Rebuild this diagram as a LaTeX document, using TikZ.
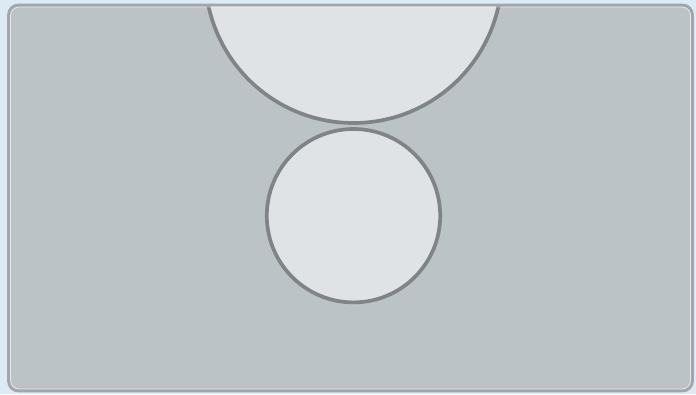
\documentclass[tikz,border=0pt]{standalone}
\definecolor{pagebg}{HTML}{DCEAF6}
\definecolor{panelfill}{HTML}{BBC3C6}
\definecolor{panelrim}{HTML}{A2A6A8}
\definecolor{discfill}{HTML}{DFE3E6}
\definecolor{discrim}{HTML}{808486}
\tikzset{
  disc/.style={fill=discfill, draw=discrim, line width=3.7pt},
  panel/.style={rounded corners=10pt, draw=panelrim, line width=2.8pt},
}
\begin{document}
\begin{tikzpicture}[x=1pt,y=-1pt]
\useasboundingbox (0,0) rectangle (696,394);
\fill[pagebg] (0,0) rectangle (696,394);
\fill[panelfill, rounded corners=10pt] (8.5,5) rectangle (692.5,391);
\begin{scope}
  \clip[rounded corners=10pt] (8.5,5) rectangle (692.5,391);
  \path[disc] (353.5,-25.3) circle[radius=148.3];
  \path[disc] (353.5,215.7) circle[radius=86.7];
\end{scope}
\draw[white, opacity=0.6, line width=0.8pt, rounded corners=8.5pt] (10.5,7) rectangle (690.5,389);
\draw[panel] (8.5,5) rectangle (692.5,391);
\end{tikzpicture}
\end{document}
